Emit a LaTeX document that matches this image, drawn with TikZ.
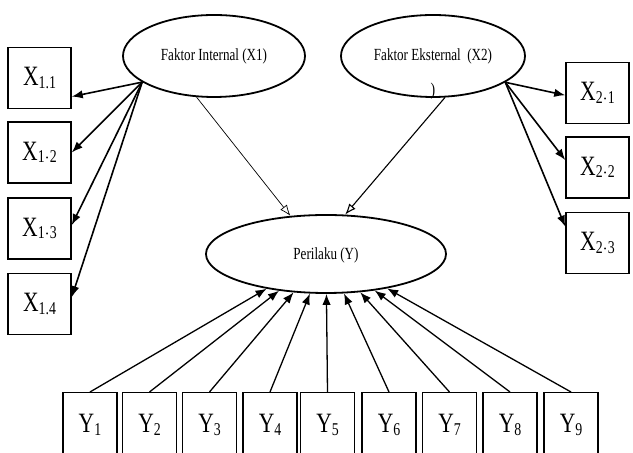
\documentclass[tikz,border=0pt]{standalone}
\usepackage{fontspec}
\setmainfont{Liberation Serif}[FakeStretch=0.77]
\usetikzlibrary{arrows.meta,shapes.geometric}
\newcommand{\subtxt}[1]{\raisebox{-1.2pt}{\fontsize{9}{9}\selectfont #1}}

\begin{document}
\begin{tikzpicture}[
    x=0.5pt, y=-0.5pt,                      % one unit is one pixel of the reference
    factor/.style={                         % Latent variables
        ellipse,
        draw=black,
        line width=0.9pt,
        inner sep=0pt,
        font=\fontsize{8.5}{9}\selectfont
    },
    indicator/.style={                      % Indicator boxes
        rectangle,
        draw=black,
        line width=0.75pt,
        minimum width=31.5pt,
        minimum height=30.5pt,
        inner sep=0pt,
        font=\fontsize{14}{14}\selectfont
    },
    ybox/.style={                           % Boxes of the bottom row
        indicator,
        minimum width=27pt,
        inner ysep=0pt,
        text height=20pt,
        text depth=16pt
    },
    load/.style={-{Latex[length=5.5pt,width=4.2pt]}, line width=0.8pt},
    path/.style={-{Latex[open,length=5.5pt,width=4.2pt]}, line width=0.35pt}
]

% Frame of the reference picture
\useasboundingbox (0,0) rectangle (633,453);
\clip (0,0) rectangle (633,453);

% Latent variables
\node[factor, minimum width=91pt, minimum height=41pt] (FI) at (214,56) {Faktor Internal (X1)};
\node[factor, minimum width=92pt, minimum height=41pt] (FE) at (433,56) {Faktor Eksternal~ (X2)};
\node[factor, minimum width=120pt, minimum height=39pt, text depth=0pt] (P) at (326,254) {Perilaku (Y)};
\node[inner sep=0pt, font=\fontsize{9}{9}\selectfont] (mark) at (433,91) {)};

% Indicators of X1
\node[indicator] (X11) at (39.5,78) {X\subtxt{1.1}};
\node[indicator] (X12) at (39.5,152.5) {X\subtxt{1$\cdot$2}};
\node[indicator] (X13) at (39.5,228.5) {X\subtxt{1$\cdot$3}};
\node[indicator] (X14) at (39.5,304) {X\subtxt{1.4}};

% Indicators of X2
\node[indicator] (X21) at (597.5,93) {X\subtxt{2$\cdot$1}};
\node[indicator] (X22) at (597.5,167.5) {X\subtxt{2$\cdot$2}};
\node[indicator] (X23) at (597.5,243) {X\subtxt{2$\cdot$3}};

% Loadings
\draw[load] (FI.200) -- (X11.330);
\draw[load] (FI.200) -- (X12.east);
\draw[load] (FI.200) -- (X13.6);
\draw[load] (FI.200) -- (X14.12);
\draw[load] (FE.340) -- (X21.184);
\draw[load] (FE.340) -- (X22.167);
\draw[load] (FE.340) -- (X23.153);

% Paths to Perilaku
\draw[path] (FI.247) -- (P.133);
\draw[path, line width=0.55pt] (FE.286) -- (P.64);

% Indicators of Y
\foreach \i/\x in {1/90,2/149.5,3/209.5,4/270,5/327.5,6/389,7/449.5,8/510,9/571} {
    \node[ybox, anchor=north] (Y\i) at (\x,392) {Y\subtxt{\i}};
    \draw[load, line width=0.65pt] (Y\i.north) -- (P);
}

\end{tikzpicture}
\end{document}
